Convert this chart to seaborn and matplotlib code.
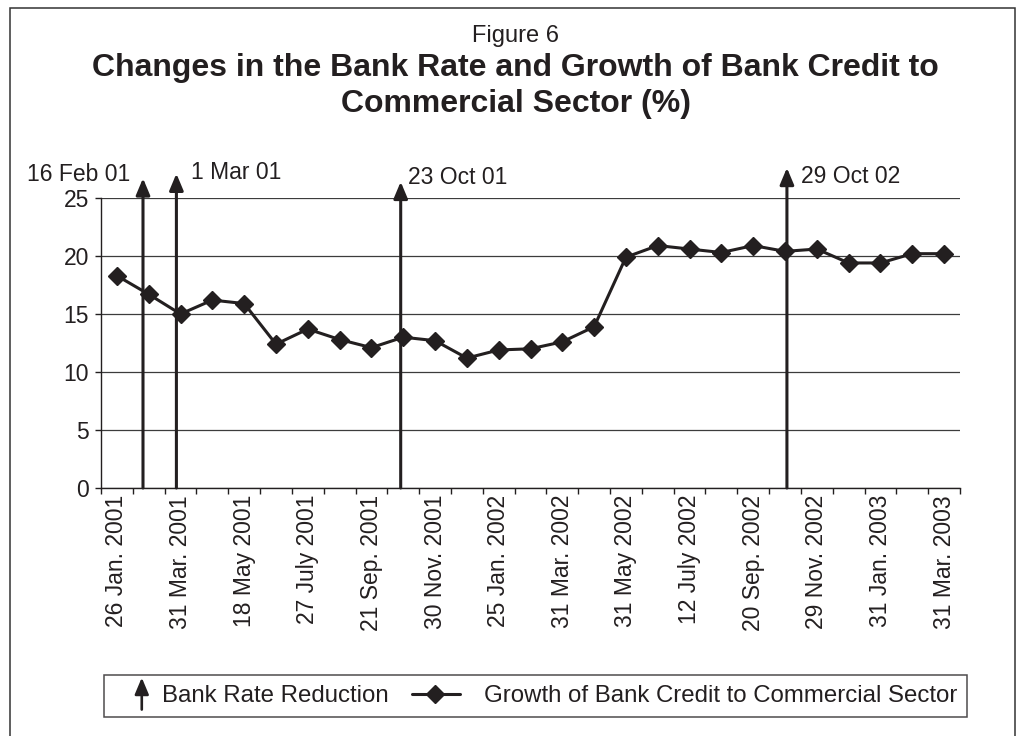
import numpy as np
import matplotlib
matplotlib.use("Agg")
import matplotlib.pyplot as plt
import seaborn as sns
from matplotlib.patches import Rectangle, FancyArrowPatch
from matplotlib.lines import Line2D
from matplotlib.legend_handler import HandlerBase

# Growth of bank credit to the commercial sector (%), one value per reporting date
credit_growth = [18.3, 16.7, 15.0, 16.2, 15.9, 12.4, 13.7, 12.8, 12.1, 13.0,
                 12.7, 11.2, 11.9, 12.0, 12.6, 13.9, 19.9, 20.9, 20.6, 20.3,
                 20.9, 20.4, 20.6, 19.4, 19.4, 20.2, 20.2]
# Every second reporting date is labelled on the axis
date_labels = ["26 Jan. 2001", "31 Mar. 2001", "18 May 2001", "27 July 2001",
               "21 Sep. 2001", "30 Nov. 2001", "25 Jan. 2002", "31 Mar. 2002",
               "31 May 2002", "12 July 2002", "20 Sep. 2002", "29 Nov. 2002",
               "31 Jan. 2003", "31 Mar. 2003"]
# Bank rate reductions: date label and position on the reporting-date axis
cut_labels = ["16 Feb 01", "1 Mar 01", "23 Oct 01", "29 Oct 02"]
cut_positions = [0.82, 1.87, 8.92, 21.06]
cut_heights = [26.7, 27.1, 26.4, 27.6]
y_ticks = [0, 5, 10, 15, 20, 25]

INK = "#231f20"
FS = 16.5
ARROW_STYLE = "-|>,head_length=1.0,head_width=0.42"

sns.set_style("white")
plt.rcParams["font.family"] = ["Liberation Sans", "DejaVu Sans"]
plt.rcParams["text.color"] = INK
plt.rcParams["xtick.color"] = INK
plt.rcParams["ytick.color"] = INK

fig = plt.figure(figsize=(10.17, 7.36), dpi=100)
W, H = 1017, 736
ax = fig.add_axes([101 / W, 1 - 488 / H, (960 - 101) / W, (488 - 198) / H])

x = np.arange(len(credit_growth))
sns.lineplot(x=x, y=credit_growth, ax=ax, color=INK, linewidth=2.2,
             marker="D", markersize=8.8, markeredgecolor=INK,
             markeredgewidth=1, legend=False, zorder=4)

# axes, ticks and grid
ax.set_xlim(-0.5, len(credit_growth) - 0.5)
ax.set_ylim(0, 25)
ax.set_xticks(np.arange(0, len(credit_growth), 2))
ax.set_xticklabels(date_labels, rotation=90)
ax.set_xticks(np.arange(-0.5, len(credit_growth), 1), minor=True)
ax.tick_params(axis="x", which="major", length=0, pad=5, labelsize=FS)
ax.tick_params(axis="x", which="minor", length=4, width=1, direction="out",
               color=INK, bottom=True)
ax.set_yticks(y_ticks)
ax.tick_params(axis="y", length=4, width=1, pad=4.5, labelsize=FS,
               direction="out", left=True, color=INK)
ax.set_xlabel("")
ax.set_ylabel("")
ax.grid(axis="y", color="#3c3c3c", linewidth=0.9)
ax.grid(axis="x", visible=False)
ax.set_axisbelow(True)
for side in ("top", "right"):
    ax.spines[side].set_visible(False)
for side in ("left", "bottom"):
    ax.spines[side].set_color(INK)
    ax.spines[side].set_linewidth(1.0)

# bank rate reduction arrows with their dates
label_offsets = [(-9, 2.4, "right"), (10.8, 0.7, "left"),
                 (5.3, 2.9, "left"), (9.9, -6, "left")]
for pos, top, lab, (dx, dy, ha) in zip(cut_positions, cut_heights,
                                       cut_labels, label_offsets):
    ax.annotate("", xy=(pos, top), xytext=(pos, 0),
                arrowprops=dict(arrowstyle=ARROW_STYLE, mutation_scale=10,
                                lw=2.2, color=INK, shrinkA=0, shrinkB=0),
                annotation_clip=False, zorder=3)
    ax.annotate(lab, xy=(pos, top), xytext=(dx, dy), textcoords="offset points",
                ha=ha, va="center", fontsize=FS, annotation_clip=False)

# titles
fig.text(0.507, 1 - 36 / H, "Figure 6", ha="center", va="center", fontsize=17)
fig.text(0.507, 1 - 68 / H, "Changes in the Bank Rate and Growth of Bank Credit to",
         ha="center", va="center", fontsize=23, fontweight="bold")
fig.text(0.507, 1 - 104 / H, "Commercial Sector (%)",
         ha="center", va="center", fontsize=23, fontweight="bold")


# legend keys
class RateCutKey:
    pass


class CreditKey:
    pass


class RateCutHandler(HandlerBase):
    def create_artists(self, legend, orig_handle, xdescent, ydescent,
                       width, height, fontsize, trans):
        xc = -xdescent + 0.72 * width
        yc = -ydescent + height / 2
        arrow = FancyArrowPatch((xc, yc - 11.5), (xc, yc + 11.5),
                                arrowstyle=ARROW_STYLE, mutation_scale=10,
                                lw=1.9, color=INK, shrinkA=0, shrinkB=0,
                                transform=trans)
        return [arrow]


class CreditHandler(HandlerBase):
    def create_artists(self, legend, orig_handle, xdescent, ydescent,
                       width, height, fontsize, trans):
        x0 = -xdescent - 16.8
        x1 = -xdescent + 17.4
        yc = -ydescent + height / 2
        line = Line2D([x0, (x0 + x1) / 2 - 1, x1], [yc, yc, yc], color=INK,
                      lw=2.2, marker="D", markersize=8.8, markevery=[1],
                      markeredgecolor=INK, markerfacecolor=INK, transform=trans)
        return [line]


leg = fig.legend([RateCutKey(), CreditKey()],
                 ["Bank Rate Reduction", "Growth of Bank Credit to Commercial Sector"],
                 handler_map={RateCutKey: RateCutHandler(), CreditKey: CreditHandler()},
                 loc="center", bbox_to_anchor=(104 / W, 1 - 720 / H, 863 / W, 48 / H),
                 mode="expand", ncol=2, borderaxespad=0, borderpad=0.42,
                 handlelength=1.6, handletextpad=0.4, fontsize=17.3,
                 frameon=True, fancybox=False, edgecolor=INK)
leg.get_frame().set_linewidth(1.1)

# outer frame of the figure
fig.patches.append(Rectangle((10 / W, -0.05), (1015 - 10) / W, 1 - 8 / H + 0.05,
                             transform=fig.transFigure, fill=False,
                             edgecolor="#333333", linewidth=1.1, clip_on=False))

fig.savefig("out.png", dpi=100)
